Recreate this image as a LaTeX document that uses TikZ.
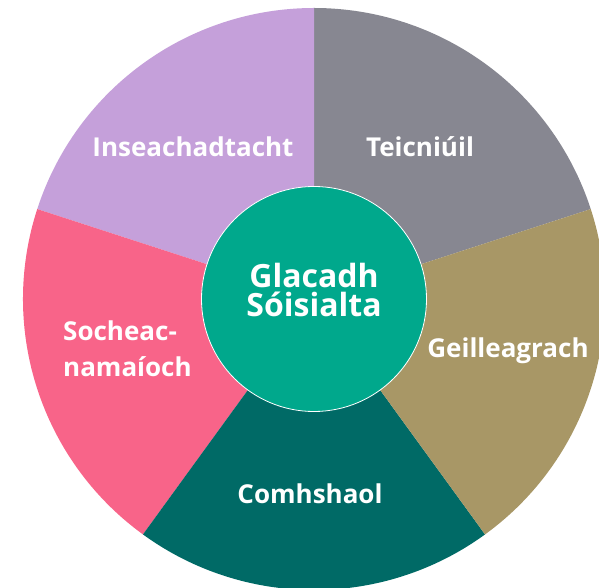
\documentclass[tikz,border=0pt]{standalone}
\usepackage{fontspec}
\setmainfont{Open Sans}
\usetikzlibrary{positioning}
\definecolor{lilac}{HTML}{C5A0DA}
\definecolor{techgrey}{HTML}{878791}
\definecolor{ecotan}{HTML}{A89766}
\definecolor{deepteal}{HTML}{006A66}
\definecolor{rosepink}{HTML}{F86489}
\definecolor{hubteal}{HTML}{00A88C}

\begin{document}
\begin{tikzpicture}[x=1pt,y=1pt,
    label/.style={text=white,font=\bfseries\fontsize{26}{36}\selectfont,inner sep=0pt},
    hub/.style={circle,fill=hubteal,draw=white,line width=0.8pt,minimum size=225pt,inner sep=0pt},
    title/.style={text=white,font=\bfseries\fontsize{32}{29}\selectfont,align=center,inner sep=0pt}]
   \useasboundingbox (0,0) rectangle (599,588);
   \clip (0,0) rectangle (599,588);
   \coordinate (o) at (314,289);
   % five slices
   \foreach \a/\c in {18/techgrey,90/lilac,162/rosepink,234/deepteal,306/ecotan}
      \fill[\c] (o) -- ++(\a:291) arc[start angle=\a,delta angle=72,radius=291] -- cycle;
   \node[hub] (core) at (o) {};
   \node[title,anchor=base] (name) at (314,271) {Glacadh\\Sóisialta};
   \node[label,anchor=base] (innov) at (193,431) {Inseachadtacht};
   \node[label,anchor=base] (tech)  at (420,431) {Teicniúil};
   \node[label,anchor=base] (econ)  at (508,230) {Geilleagrach};
   \node[label,anchor=base] (env)   at (310,84)  {Comhshaol};
   \node[label,align=left,anchor=base west] (socio) at (63,211) {Socheac-\\namaíoch};
\end{tikzpicture}
\end{document}
